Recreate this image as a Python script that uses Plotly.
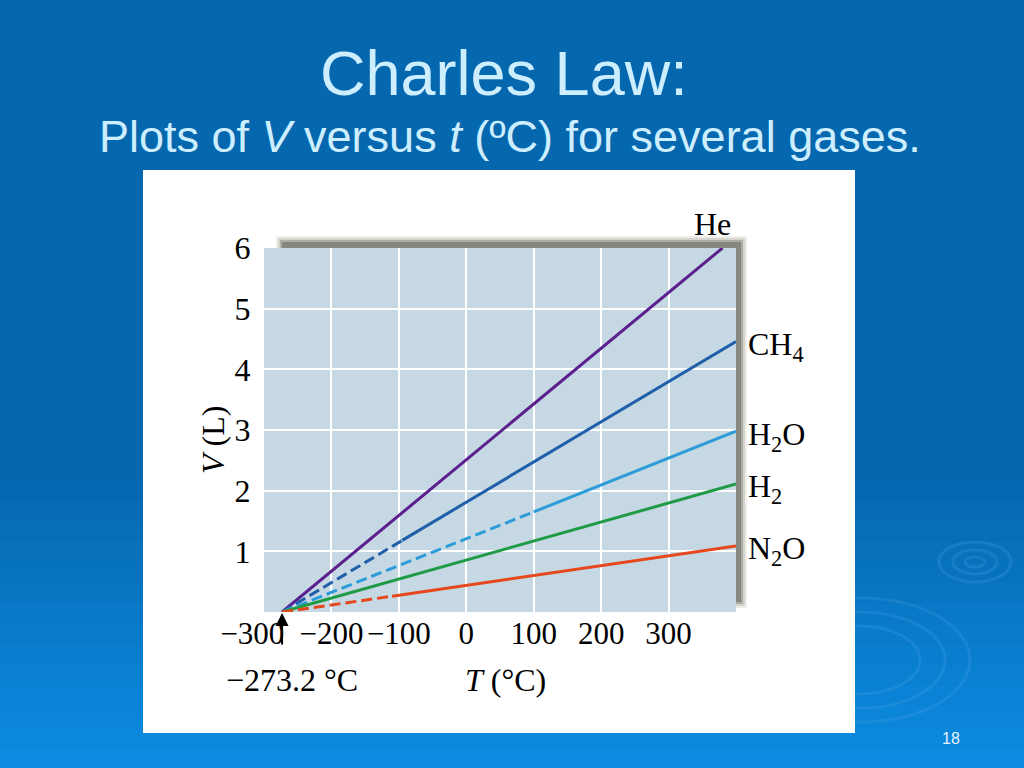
import plotly.graph_objects as go

# data
gases = ["He", "CH<sub>4</sub>", "H<sub>2</sub>O", "H<sub>2</sub>", "N<sub>2</sub>O"]
colors = ["#5b1f8e", "#1f5ea8", "#2c9cd9", "#1f9a45", "#e6471d"]
abs_zero = -273.2
# end of the dashed (extrapolated) part, None = solid all the way
break_t = [None, -95, 100, None, -110]
break_v = [None, 1.18, 1.65, None, 0.26]
end_t = [380, 400, 400, 400, 400]
end_v = [6.0, 4.46, 2.98, 2.11, 1.09]

x_ticks = [-300, -200, -100, 0, 100, 200, 300]
# -300 sits just left of the arrow in the original
x_tick_text = ["\u2212300\u00a0\u00a0\u00a0", "\u2212200", "\u2212100", "0", "100", "200", "300"]
y_ticks = [1, 2, 3, 4, 5, 6]

W, H = 1024, 768


def px(x):
    return x / W


def py(y):
    return 1 - y / H


SERIF = "Liberation Serif, Times New Roman, serif"
SANS = "Liberation Sans, Arial, sans-serif"

fig = go.Figure()

for name, col, bt, bv, et, ev in zip(gases, colors, break_t, break_v, end_t, end_v):
    if bt is None:
        fig.add_trace(go.Scatter(x=[abs_zero, et], y=[0, ev], mode="lines",
                                 line=dict(color=col, width=3), name=name))
    else:
        fig.add_trace(go.Scatter(x=[abs_zero, bt], y=[0, bv], mode="lines",
                                 line=dict(color=col, width=3, dash="11px,5px"), name=name))
        fig.add_trace(go.Scatter(x=[bt, et], y=[bv, ev], mode="lines",
                                 line=dict(color=col, width=3), name=name))

shapes = []
# slide background: flat blue on top, lighter gradient near the bottom
shapes.append(dict(type="rect", xref="paper", yref="paper", x0=0, x1=1, y0=0, y1=1,
                   fillcolor="#0567ae", line_width=0, layer="below"))
steps = 14
for i in range(steps):
    y0 = 480 + i * (288 / steps)
    f = (i + 1) / steps
    r = int(5 + (12 - 5) * f)
    g = int(103 + (138 - 103) * f)
    b = int(174 + (224 - 174) * f)
    shapes.append(dict(type="rect", xref="paper", yref="paper", x0=0, x1=1,
                       y0=py(y0 + 288 / steps + 1), y1=py(y0),
                       fillcolor="rgb(%d,%d,%d)" % (r, g, b), line_width=0, layer="below"))
# faint water ripples in the corner
for cx, cy, rx, ry in [(975, 562, 36, 20), (975, 562, 22, 12), (975, 562, 10, 5),
                       (860, 660, 110, 62), (860, 660, 85, 48), (860, 660, 60, 34)]:
    shapes.append(dict(type="circle", xref="paper", yref="paper",
                       x0=px(cx - rx), x1=px(cx + rx), y0=py(cy + ry), y1=py(cy - ry),
                       line=dict(color="rgba(110,185,245,0.16)", width=3), layer="below"))
# white panel
shapes.append(dict(type="rect", xref="paper", yref="paper", x0=px(143), x1=px(855),
                   y0=py(733), y1=py(170), fillcolor="white", line_width=0, layer="below"))
# soft shadow behind the plot area
for grow, c in [(6, "#efeeea"), (4, "#d4d3cc"), (2, "#aeada4"), (0, "#88877d")]:
    shapes.append(dict(type="rect", xref="paper", yref="paper",
                       x0=px(282 - grow), x1=px(741 + grow),
                       y0=py(602 + grow), y1=py(242 - grow),
                       fillcolor=c, line_width=0, layer="below"))
# plot area background
shapes.append(dict(type="rect", xref="paper", yref="paper", x0=px(264), x1=px(736),
                   y0=py(612), y1=py(248), fillcolor="#c5d8e3", line_width=0, layer="below"))

fig.update_layout(shapes=shapes)


def note(text, x, y, size, family=SERIF, color="black", **kw):
    return dict(text=text, x=px(x), y=py(y), xref="paper", yref="paper",
                xanchor="center", yanchor="middle", showarrow=False,
                font=dict(family=family, size=size, color=color), **kw)


annotations = [
    note("Charles Law:", 504, 73, 63, SANS, "#cdeeff"),
    note("Plots of <i>V</i> versus <i>t</i> (\u00baC) for several gases.", 510, 136, 45,
         SANS, "#cdeeff"),
    note("18", 951, 738, 16, SANS, "#e8f4ff"),
    note("\u2212273.2 \u00b0C", 292, 680, 32),
    note("<i>T</i> (\u00b0C)", 505, 680, 32),
    note("<i>V</i> (L)", 213, 440, 32, textangle=-90),
    dict(text="", x=abs_zero, y=0, xref="x", yref="y", showarrow=True,
         ax=0, ay=34, arrowhead=2, arrowsize=1.3, arrowwidth=2, arrowcolor="black",
         standoff=1),
]
for name, et, ev in zip(gases, end_t, end_v):
    if ev >= 6:
        annotations.append(dict(text=name, x=et, y=ev, xref="x", yref="y",
                                showarrow=False, xanchor="center", yanchor="bottom",
                                xshift=-10, yshift=4,
                                font=dict(family=SERIF, size=32, color="black")))
    else:
        annotations.append(dict(text=name, x=et, y=ev, xref="x", yref="y",
                                showarrow=False, xanchor="left", yanchor="middle",
                                xshift=10, yshift=-5,
                                font=dict(family=SERIF, size=32, color="black")))

fig.update_layout(
    width=W, height=H,
    margin=dict(l=0, r=0, t=0, b=0, pad=0),
    paper_bgcolor="#0567ae",
    plot_bgcolor="rgba(0,0,0,0)",
    showlegend=False,
    annotations=annotations,
    xaxis=dict(
        domain=[px(264), px(736)],
        range=[-300, 400],
        tickvals=x_ticks, ticktext=x_tick_text, tickangle=0,
        showgrid=True, gridcolor="white", gridwidth=2,
        zeroline=False, showline=False, automargin=False,
        ticks="", ticklen=0,
        tickfont=dict(family=SERIF, size=31, color="black"),
    ),
    yaxis=dict(
        domain=[py(612), py(248)],
        range=[0, 6],
        tickvals=y_ticks,
        showgrid=True, gridcolor="white", gridwidth=2,
        zeroline=False, showline=False, automargin=False,
        ticks="outside", ticklen=6, tickcolor="rgba(0,0,0,0)",
        tickfont=dict(family=SERIF, size=32, color="black"),
    ),
)

fig.write_html("out.html", config={"displayModeBar": False},
               post_script="document.body.style.margin='0';")
